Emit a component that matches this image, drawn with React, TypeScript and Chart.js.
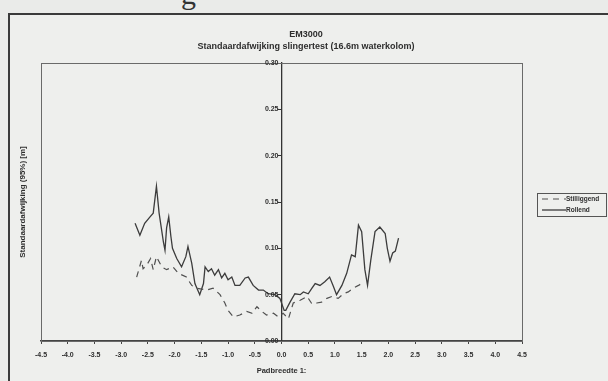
import React, { useEffect, useRef } from 'react';
import { Chart, registerables } from 'chart.js';

Chart.register(...registerables);

// Pendulum-test standard deviation per path width, two runs
const chartTitle = ['EM3000', 'Standaardafwijking slingertest (16.6m waterkolom)'];
const xAxisTitle = 'Padbreedte 1:';
const yAxisTitle = 'Standaardafwijking (95%) [m]';
const seriesNames = ['Stilliggend', 'Rollend'];

const xMin = -4.5;
const xMax = 4.5;
const xStep = 0.5;
const yMin = 0;
const yMax = 0.3;
const yStep = 0.05;

const stilliggendX = [-2.71, -2.62, -2.59, -2.52, -2.45, -2.40, -2.34, -2.24, -2.15, -2.03, -1.93, -1.78, -1.68, -1.59, -1.40, -1.28, -1.15, -1.06, -1.00, -0.90, -0.78, -0.65, -0.55, -0.46, -0.37, -0.28, -0.15, -0.06, 0.03, 0.13, 0.22, 0.35, 0.48, 0.57, 0.66, 0.75, 0.85, 0.94, 1.06, 1.16, 1.25, 1.34, 1.44, 1.50];
const stilliggendY = [0.069, 0.087, 0.078, 0.082, 0.089, 0.077, 0.091, 0.080, 0.077, 0.080, 0.073, 0.069, 0.060, 0.057, 0.055, 0.057, 0.050, 0.041, 0.033, 0.026, 0.028, 0.032, 0.030, 0.037, 0.032, 0.028, 0.030, 0.026, 0.030, 0.024, 0.041, 0.044, 0.048, 0.040, 0.041, 0.042, 0.046, 0.048, 0.046, 0.051, 0.053, 0.057, 0.060, 0.062];

const rollendX = [-2.74, -2.65, -2.56, -2.46, -2.40, -2.34, -2.29, -2.21, -2.18, -2.15, -2.11, -2.07, -2.04, -1.96, -1.87, -1.79, -1.75, -1.68, -1.62, -1.53, -1.46, -1.43, -1.37, -1.31, -1.25, -1.18, -1.12, -1.06, -1.00, -0.93, -0.87, -0.78, -0.68, -0.62, -0.53, -0.43, -0.34, -0.25, -0.12, -0.03, 0.05, 0.08, 0.16, 0.25, 0.35, 0.41, 0.50, 0.57, 0.63, 0.72, 0.81, 0.90, 0.97, 1.03, 1.13, 1.22, 1.31, 1.38, 1.44, 1.50, 1.56, 1.61, 1.67, 1.75, 1.84, 1.94, 1.98, 2.03, 2.08, 2.13, 2.19];
const rollendY = [0.127, 0.114, 0.127, 0.134, 0.138, 0.167, 0.138, 0.107, 0.098, 0.122, 0.134, 0.113, 0.100, 0.089, 0.080, 0.091, 0.102, 0.084, 0.062, 0.050, 0.062, 0.080, 0.075, 0.078, 0.071, 0.077, 0.068, 0.073, 0.066, 0.069, 0.060, 0.060, 0.068, 0.069, 0.060, 0.055, 0.055, 0.051, 0.050, 0.046, 0.033, 0.033, 0.042, 0.051, 0.050, 0.053, 0.051, 0.057, 0.062, 0.060, 0.064, 0.069, 0.059, 0.050, 0.060, 0.073, 0.093, 0.091, 0.125, 0.118, 0.077, 0.060, 0.087, 0.118, 0.123, 0.116, 0.100, 0.086, 0.095, 0.097, 0.111];

const FONT = '"Liberation Sans", Arial, Helvetica, sans-serif';
const INK = '#2e2e2e';

// Two-line heading centred over the framed sheet
const heading = {
  id: 'heading',
  afterDraw(chart: any) {
    const { ctx } = chart;
    ctx.save();
    ctx.font = `bold 9px ${FONT}`;
    ctx.fillStyle = INK;
    ctx.textAlign = 'center';
    ctx.textBaseline = 'middle';
    chartTitle.forEach((line, i) => ctx.fillText(line, 306, 35 + i * 12));
    ctx.restore();
  },
};

// Outline around the plot area
const plotFrame = {
  id: 'plotFrame',
  afterDatasetsDraw(chart: any) {
    const { ctx, chartArea: a } = chart;
    ctx.save();
    ctx.strokeStyle = '#6a6a6a';
    ctx.lineWidth = 1;
    ctx.strokeRect(a.left + 0.5, a.top + 0.5, a.right - a.left, a.bottom - a.top);
    ctx.restore();
  },
};

// Value labels for the centred y axis, set to the left of its line
const yTickLabels = {
  id: 'yTickLabels',
  afterDraw(chart: any) {
    const { ctx } = chart;
    const yScale = chart.scales.y;
    const x0 = chart.scales.x.getPixelForValue(0);
    ctx.save();
    ctx.font = `bold 7px ${FONT}`;
    ctx.fillStyle = INK;
    ctx.textAlign = 'right';
    ctx.textBaseline = 'middle';
    yScale.ticks.forEach((t: any) => {
      ctx.fillText(Number(t.value).toFixed(2), x0 - 3, yScale.getPixelForValue(t.value));
    });
    ctx.restore();
  },
};

// Rotated value-axis caption at the far left
const sideTitle = {
  id: 'sideTitle',
  afterDraw(chart: any) {
    const { ctx, chartArea: a } = chart;
    ctx.save();
    ctx.translate(23, (a.top + a.bottom) / 2);
    ctx.rotate(-Math.PI / 2);
    ctx.font = `bold 8px ${FONT}`;
    ctx.fillStyle = INK;
    ctx.textAlign = 'center';
    ctx.textBaseline = 'middle';
    ctx.fillText(yAxisTitle, 0, 0);
    ctx.restore();
  },
};

// Boxed legend to the right of the plot
const boxedLegend = {
  id: 'boxedLegend',
  afterDraw(chart: any) {
    const { ctx, chartArea: a } = chart;
    const x0 = a.right + 15;
    const y0 = a.top + 130;
    const w = 69;
    const h = 23;
    ctx.save();
    ctx.strokeStyle = '#555';
    ctx.lineWidth = 1;
    ctx.strokeRect(x0 + 0.5, y0 + 0.5, w, h);
    ctx.font = `bold 6.5px ${FONT}`;
    ctx.textBaseline = 'middle';
    chart.data.datasets.forEach((ds: any, i: number) => {
      const y = y0 + 6 + i * 11;
      ctx.strokeStyle = ds.borderColor;
      ctx.lineWidth = ds.borderWidth;
      ctx.setLineDash(ds.borderDash || []);
      ctx.beginPath();
      ctx.moveTo(x0 + 5, y);
      ctx.lineTo(x0 + 29, y);
      ctx.stroke();
      ctx.setLineDash([]);
      ctx.fillStyle = INK;
      ctx.fillText(ds.label, x0 + 29, y);
    });
    ctx.restore();
  },
};

export default function App() {
  const canvasRef = useRef<HTMLCanvasElement | null>(null);

  useEffect(() => {
    if (!canvasRef.current) return;
    const chart = new Chart(canvasRef.current, {
      type: 'line',
      data: {
        datasets: [
          {
            label: seriesNames[0],
            data: stilliggendX.map((x, i) => ({ x, y: stilliggendY[i] })),
            borderColor: '#505050',
            borderWidth: 1.2,
            borderDash: [6, 5],
            pointRadius: 0,
            tension: 0,
            fill: false,
          },
          {
            label: seriesNames[1],
            data: rollendX.map((x, i) => ({ x, y: rollendY[i] })),
            borderColor: '#3c3c3c',
            borderWidth: 1.3,
            pointRadius: 0,
            tension: 0,
            fill: false,
          },
        ],
      },
      options: {
        responsive: false,
        animation: false,
        layout: { padding: { left: 41, right: 86, top: 63, bottom: 0 } },
        plugins: {
          legend: { display: false },
          tooltip: { enabled: false },
          title: { display: false },
        },
        scales: {
          x: {
            type: 'linear',
            position: 'bottom',
            min: xMin,
            max: xMax,
            afterFit: (s: any) => {
              s.height = 40;
            },
            ticks: {
              stepSize: xStep,
              autoSkip: false,
              maxRotation: 0,
              padding: 7,
              color: INK,
              font: { family: FONT, size: 7, weight: 'bold' },
              callback: (v: any) => Number(v).toFixed(1),
            },
            grid: { drawOnChartArea: false, drawTicks: true, tickLength: 3, color: '#444' },
            border: { display: true, color: '#444', width: 1.5 },
            title: {
              display: true,
              text: xAxisTitle,
              color: INK,
              font: { family: FONT, size: 7.5, weight: 'bold' },
              padding: { top: 3, bottom: 6 },
            },
          },
          y: {
            type: 'linear',
            position: { x: 0 },
            min: yMin,
            max: yMax,
            ticks: { stepSize: yStep, display: false },
            grid: { drawOnChartArea: false, drawTicks: true, tickLength: 3, color: '#333' },
            border: { display: true, color: '#333', width: 1.3 },
          },
        },
      },
      plugins: [plotFrame, heading, yTickLabels, sideTitle, boxedLegend],
    } as any);
    return () => chart.destroy();
  }, []);

  return (
    <div
      style={{
        position: 'fixed',
        left: 0,
        top: 0,
        width: 608,
        height: 381,
        overflow: 'hidden',
        background: '#eaebe9',
      }}
    >
      <span
        style={{
          position: 'absolute',
          left: 181,
          top: -21,
          fontFamily: '"Liberation Serif", "Times New Roman", serif',
          fontSize: 30,
          lineHeight: '30px',
          color: '#333',
        }}
      >
        g
      </span>
      <div
        style={{
          position: 'absolute',
          left: 8,
          top: 13,
          width: 640,
          height: 420,
          border: '2px solid #3a3a3a',
          background: '#eeefed',
        }}
      />
      <canvas
        ref={canvasRef}
        width={608}
        height={381}
        style={{ position: 'absolute', left: 0, top: 0 }}
      />
    </div>
  );
}
